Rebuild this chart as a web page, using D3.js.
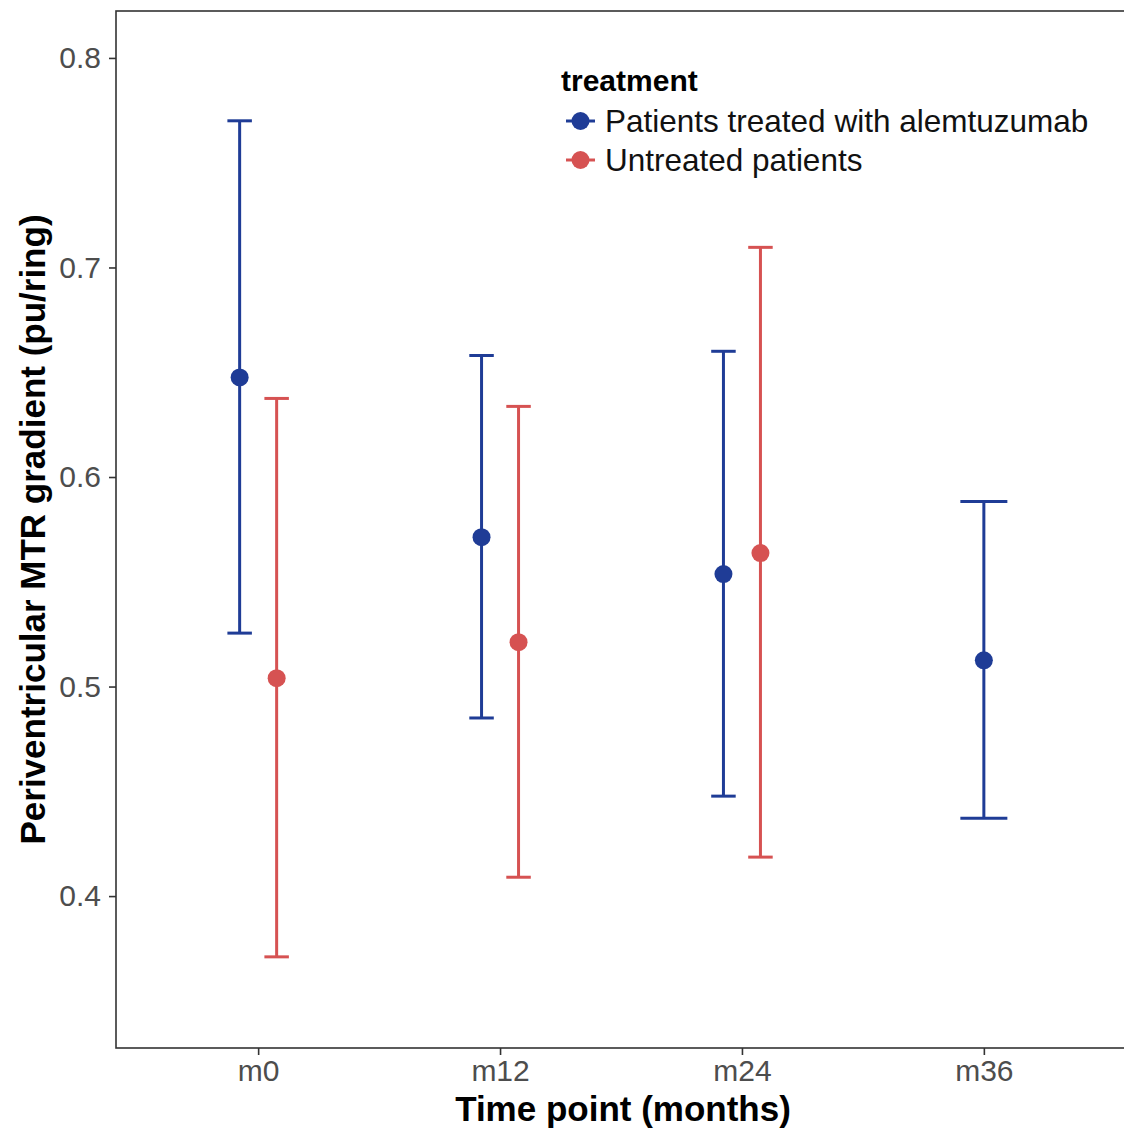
<!DOCTYPE html>
<html>
<head>
<meta charset="utf-8">
<script src="https://cdn.jsdelivr.net/npm/d3@7"></script>
<style>
  body { margin: 0; background: #fff; }
  svg { font-family: "Liberation Sans", Arial, sans-serif; }
</style>
</head>
<body>
<svg id="chart" width="1124" height="1129"></svg>
<script>
// time points and groups
var timePoints = ["m0", "m12", "m24", "m36"];
var groups = ["Patients treated with alemtuzumab", "Untreated patients"];
var groupColors = ["#1f3c96", "#d65252"];

// values (mean, lower, upper)
var treatedMean  = [0.6475, 0.5713, 0.5537, 0.5125];
var treatedLow   = [0.5255, 0.4850, 0.4477, 0.4372];
var treatedHigh  = [0.7700, 0.6580, 0.6600, 0.5883];
var untreatedTime = ["m0", "m12", "m24"];
var untreatedMean = [0.5040, 0.5212, 0.5637];
var untreatedLow  = [0.3710, 0.4090, 0.4186];
var untreatedHigh = [0.6375, 0.6337, 0.7096];

var yTicks = [0.4, 0.5, 0.6, 0.7, 0.8];

var rows = [];
timePoints.forEach(function (t, i) {
    rows.push({time: t, group: 0, mean: treatedMean[i], low: treatedLow[i], high: treatedHigh[i]});
});
untreatedTime.forEach(function (t, i) {
    rows.push({time: t, group: 1, mean: untreatedMean[i], low: untreatedLow[i], high: untreatedHigh[i]});
});
// how many groups at each time point (for dodging)
var countAt = {};
rows.forEach(function (d) { countAt[d.time] = (countAt[d.time] || 0) + 1; });

var mLeft = 116, mRight = 1124, mTop = 11, mBottom = 1048;
var svg = d3.select("#chart");

var x = d3.scalePoint().domain(timePoints).range([113, 1129]).padding(0.6);
var y = d3.scaleLinear().domain([0.3275, 0.8224]).range([mBottom, mTop]);

var dodge = 18.5, capFull = 47;

function xPos(d) {
    var c = x(d.time);
    if (countAt[d.time] > 1) c += (d.group === 0 ? -dodge : dodge);
    return c;
}
function capW(d) { return countAt[d.time] > 1 ? capFull / 2 + 1 : capFull; }

// panel frame
svg.append("rect")
    .attr("x", mLeft).attr("y", mTop)
    .attr("width", mRight - mLeft + 10).attr("height", mBottom - mTop)
    .attr("fill", "none").attr("stroke", "#333").attr("stroke-width", 1.6);

// y axis
var yAxis = svg.append("g")
    .attr("transform", "translate(" + mLeft + ",0)")
    .call(d3.axisLeft(y).tickValues(yTicks).tickSize(7).tickPadding(8).tickFormat(d3.format(".1f")));
yAxis.select(".domain").remove();
yAxis.selectAll("line").attr("stroke", "#333").attr("stroke-width", 1.6);
yAxis.selectAll("text").attr("fill", "#4d4d4d").style("font-size", "30px")
    .attr("font-family", "Liberation Sans, Arial, sans-serif");

// x axis
var xAxis = svg.append("g")
    .attr("transform", "translate(0," + mBottom + ")")
    .call(d3.axisBottom(x).tickSize(7).tickPadding(5));
xAxis.select(".domain").remove();
xAxis.selectAll("line").attr("stroke", "#333").attr("stroke-width", 1.6);
xAxis.selectAll("text").attr("fill", "#4d4d4d").style("font-size", "30px")
    .attr("font-family", "Liberation Sans, Arial, sans-serif");

// error bars
var bars = svg.append("g").selectAll("g").data(rows).enter().append("g")
    .attr("stroke", function (d) { return groupColors[d.group]; })
    .attr("stroke-width", 3);
bars.append("line")
    .attr("x1", xPos).attr("x2", xPos)
    .attr("y1", function (d) { return y(d.low); })
    .attr("y2", function (d) { return y(d.high); });
bars.append("line")
    .attr("x1", function (d) { return xPos(d) - capW(d) / 2; })
    .attr("x2", function (d) { return xPos(d) + capW(d) / 2; })
    .attr("y1", function (d) { return y(d.high); })
    .attr("y2", function (d) { return y(d.high); });
bars.append("line")
    .attr("x1", function (d) { return xPos(d) - capW(d) / 2; })
    .attr("x2", function (d) { return xPos(d) + capW(d) / 2; })
    .attr("y1", function (d) { return y(d.low); })
    .attr("y2", function (d) { return y(d.low); });

// points
svg.append("g").selectAll("circle").data(rows).enter().append("circle")
    .attr("cx", xPos)
    .attr("cy", function (d) { return y(d.mean); })
    .attr("r", 9)
    .attr("fill", function (d) { return groupColors[d.group]; });

// axis titles
svg.append("text")
    .attr("x", (mLeft + mRight) / 2 + 3).attr("y", 1121)
    .attr("text-anchor", "middle")
    .style("font-size", "35px").style("font-weight", "bold").attr("fill", "#000")
    .text("Time point (months)");

svg.append("text")
    .attr("transform", "translate(45," + ((mTop + mBottom) / 2) + ") rotate(-90)")
    .attr("text-anchor", "middle")
    .style("font-size", "35px").style("font-weight", "bold").attr("fill", "#000")
    .text("Periventricular MTR gradient (pu/ring)");

// legend
var legend = svg.append("g").attr("transform", "translate(561,0)");
legend.append("text")
    .attr("x", 0).attr("y", 91)
    .style("font-size", "30px").style("font-weight", "bold").attr("fill", "#000")
    .text("treatment");
var keys = legend.selectAll(".key").data(groups).enter().append("g")
    .attr("class", "key")
    .attr("transform", function (d, i) { return "translate(0," + (121 + i * 39) + ")"; });
keys.append("line")
    .attr("x1", 5).attr("x2", 34).attr("y1", 0).attr("y2", 0)
    .attr("stroke", function (d, i) { return groupColors[i]; })
    .attr("stroke-width", 3);
keys.append("circle")
    .attr("cx", 19.5).attr("cy", 0).attr("r", 9)
    .attr("fill", function (d, i) { return groupColors[i]; });
keys.append("text")
    .attr("x", 44).attr("y", 11)
    .style("font-size", "31.5px").attr("fill", "#111")
    .text(function (d) { return d; });
</script>
</body>
</html>
